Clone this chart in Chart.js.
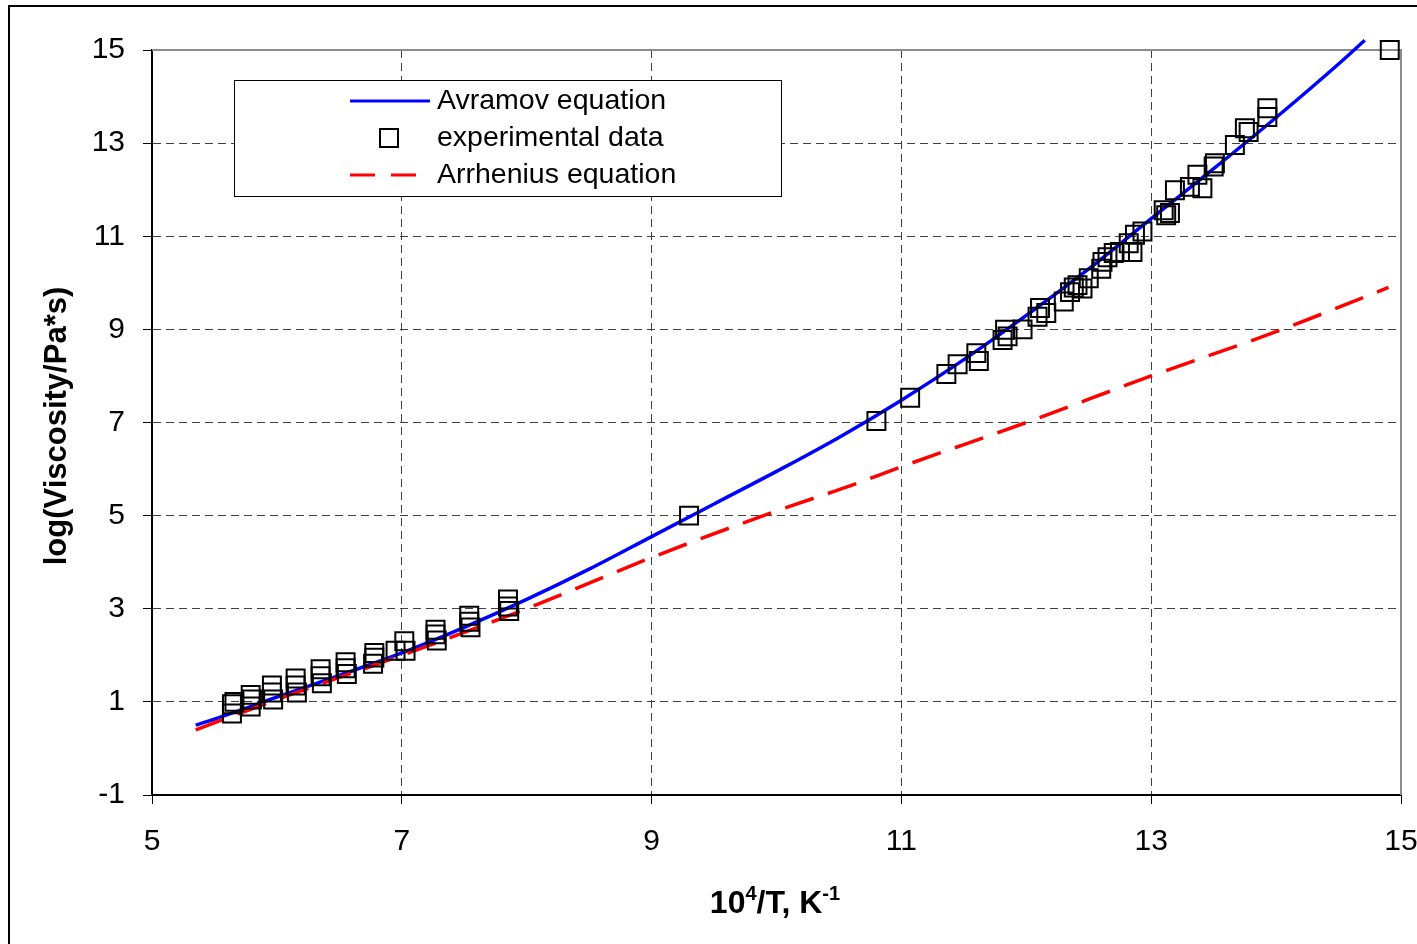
<!doctype html>
<html lang="en">
  <head>
    <meta charset="utf-8">
    <title>Viscosity vs 1/T</title>
    <style>
      * {
        margin: 0;
        padding: 0;
      }
      body {
        width: 1417px;
        height: 944px;
        overflow: hidden;
        background: white;
        font-family: "Liberation Sans", Arial, sans-serif;
      }
      .frame {
        position: absolute;
        left: 8px;
        top: 5px;
        width: 1500px;
        height: 1000px;
        border-left: 2px solid #000;
        border-top: 2px solid #000;
      }
      .chartBox {
        position: absolute;
        left: 0;
        top: 0;
        width: 1417px;
        height: 944px;
      }
    </style>
  </head>
  <body>
    <div class="frame"></div>
    <div class="chartBox">
      <canvas id="myChart" width="1417" height="944"></canvas>
    </div>
    <script src="https://cdn.jsdelivr.net/npm/chart.js"></script>
    <script>
    // data
    const avramovX = [5.35, 5.5, 6.0, 6.5, 7.0, 7.5, 8.0, 8.5, 9.0, 9.5, 10.0, 10.5, 11.0, 11.5, 12.0, 12.5, 13.0, 13.5, 14.0, 14.5, 14.71];
    const avramovY = [0.5, 0.63, 1.1, 1.57, 2.05, 2.6, 3.2, 3.85, 4.55, 5.25, 5.95, 6.68, 7.48, 8.35, 9.3, 10.3, 11.38, 12.45, 13.55, 14.7, 15.21];

    const arrheniusX = [5.35, 6.0, 7.0, 8.0, 9.0, 10.0, 10.6, 11.0, 12.0, 13.0, 14.0, 14.9];
    const arrheniusY = [0.4, 1.05, 2.0, 3.0, 4.1, 5.1, 5.65, 6.05, 7.0, 8.0, 8.95, 9.9];

    const expX = [5.64, 5.64, 5.66, 5.79, 5.79, 5.80, 5.96, 5.96, 5.97, 6.15, 6.15, 6.16,
                  6.35, 6.35, 6.36, 6.55, 6.55, 6.56, 6.78, 6.78, 6.77, 6.95, 7.02, 7.03,
                  7.27, 7.27, 7.28, 7.54, 7.54, 7.55, 7.85, 7.85, 7.86,
                  9.3, 10.8, 11.07, 11.36, 11.45, 11.6, 11.62, 11.81, 11.83, 11.85, 11.97,
                  12.09, 12.11, 12.16, 12.3, 12.35, 12.41, 12.45, 12.38, 12.5, 12.61, 12.65,
                  12.6, 12.7, 12.75, 12.85, 12.87, 12.93, 12.82, 13.1, 13.12, 13.15, 13.19,
                  13.31, 13.41, 13.37, 13.51, 13.5, 13.67, 13.75, 13.78, 13.93, 13.93, 14.91];
    const expY = [0.95, 0.75, 1.0, 1.15, 0.9, 1.05, 1.35, 1.2, 1.05, 1.5, 1.35, 1.2,
                  1.7, 1.55, 1.4, 1.85, 1.72, 1.6, 2.05, 1.95, 1.82, 2.1, 2.3, 2.1,
                  2.55, 2.45, 2.32, 2.85, 2.72, 2.6, 3.2, 3.05, 2.95,
                  5.0, 7.03, 7.53, 8.04, 8.25, 8.49, 8.32, 8.77, 8.99, 8.85, 9.0,
                  9.27, 9.46, 9.35, 9.6, 9.8, 9.95, 9.88, 9.9, 10.1, 10.45, 10.55,
                  10.3, 10.64, 10.66, 10.66, 11.03, 11.1, 10.85, 11.56, 11.45, 11.5, 11.99,
                  12.06, 12.03, 12.32, 12.57, 12.5, 12.96, 13.32, 13.24, 13.75, 13.56, 15.0];

    const xTicks = [5, 7, 9, 11, 13, 15];
    const yTicks = [-1, 1, 3, 5, 7, 9, 11, 13, 15];

    const toPoints = (xs, ys) => xs.map((x, i) => ({x: x, y: ys[i]}));

    const FONT = '"Liberation Sans", Arial, sans-serif';

    // legend, axis titles and the grey top/right edge
    const extras = {
      id: 'extras',
      beforeDatasetsDraw(chart) {
        const {ctx, chartArea: a} = chart;
        ctx.save();
        ctx.strokeStyle = '#8c8c8c';
        ctx.lineWidth = 2;
        ctx.beginPath();
        ctx.moveTo(a.left, a.top);
        ctx.lineTo(a.right, a.top);
        ctx.lineTo(a.right, a.bottom);
        ctx.stroke();
        ctx.restore();
      },
      afterDraw(chart) {
        const {ctx} = chart;
        ctx.save();

        // legend box
        ctx.fillStyle = '#fff';
        ctx.fillRect(234, 80, 547, 116);
        ctx.strokeStyle = '#000';
        ctx.lineWidth = 1;
        ctx.strokeRect(234.5, 80.5, 547, 116);

        ctx.lineWidth = 3;
        ctx.strokeStyle = '#0000ff';
        ctx.beginPath();
        ctx.moveTo(350, 101);
        ctx.lineTo(430, 101);
        ctx.stroke();

        ctx.lineWidth = 2;
        ctx.strokeStyle = '#000';
        ctx.strokeRect(380, 129, 18, 18);

        ctx.lineWidth = 3;
        ctx.strokeStyle = '#ff0000';
        ctx.setLineDash([25, 16]);
        ctx.beginPath();
        ctx.moveTo(350, 175);
        ctx.lineTo(428, 175);
        ctx.stroke();
        ctx.setLineDash([]);

        ctx.fillStyle = '#000';
        ctx.font = '28.5px ' + FONT;
        ctx.textBaseline = 'middle';
        ctx.textAlign = 'left';
        ctx.fillText('Avramov equation', 437, 101);
        ctx.fillText('experimental data', 437, 138);
        ctx.fillText('Arrhenius equation', 437, 175);

        // y title
        ctx.save();
        ctx.translate(57, 426);
        ctx.rotate(-Math.PI / 2);
        ctx.font = 'bold 31px ' + FONT;
        ctx.textAlign = 'center';
        ctx.fillText('log(Viscosity/Pa*s)', 0, 0);
        ctx.restore();

        // x title with superscripts
        const big = 'bold 32px ' + FONT;
        const small = 'bold 20px ' + FONT;
        const parts = [['10', big, 0], ['4', small, -13], ['/T, K', big, 0], ['-1', small, -13]];
        let w = 0;
        parts.forEach(p => { ctx.font = p[1]; w += ctx.measureText(p[0]).width; });
        let x = 775 - w / 2;
        ctx.textBaseline = 'alphabetic';
        ctx.textAlign = 'left';
        parts.forEach(p => {
          ctx.font = p[1];
          ctx.fillText(p[0], x, 913 + p[2]);
          x += ctx.measureText(p[0]).width;
        });

        ctx.restore();
      }
    };

    const hideEdge = edges => c => edges.includes(c.tick && c.tick.value) ? 'rgba(0,0,0,0)' : '#404040';

    const data = {
      datasets: [{
        label: 'Avramov equation',
        data: toPoints(avramovX, avramovY),
        showLine: true,
        borderColor: '#0000ff',
        borderWidth: 3.5,
        pointRadius: 0,
        cubicInterpolationMode: 'monotone',
        clip: false,
        order: 3
      }, {
        label: 'experimental data',
        data: toPoints(expX, expY),
        showLine: false,
        pointStyle: 'rect',
        pointRadius: 12.7,
        pointBorderWidth: 2,
        pointBorderColor: '#000',
        pointBackgroundColor: 'rgba(0,0,0,0)',
        clip: false,
        order: 1
      }, {
        label: 'Arrhenius equation',
        data: toPoints(arrheniusX, arrheniusY),
        showLine: true,
        borderColor: '#ff0000',
        borderWidth: 3.5,
        borderDash: [30, 15],
        pointRadius: 0,
        cubicInterpolationMode: 'monotone',
        order: 2
      }]
    };

    const config = {
      type: 'scatter',
      data,
      plugins: [extras],
      options: {
        responsive: false,
        animation: false,
        layout: {
          padding: {left: 0, top: 50, right: 16, bottom: 0}
        },
        plugins: {
          legend: {display: false},
          tooltip: {enabled: false}
        },
        scales: {
          x: {
            type: 'linear',
            min: 5,
            max: 15,
            afterBuildTicks: s => { s.ticks = xTicks.map(v => ({value: v})); },
            afterFit: s => {
              s.height = 149;
              s.paddingLeft = 0;
              s.paddingRight = 0;
            },
            ticks: {
              color: '#000',
              font: {family: FONT, size: 30},
              padding: 20,
              maxRotation: 0
            },
            grid: {
              color: hideEdge([5, 15]),
              lineWidth: 1,
              tickLength: 9,
              tickColor: '#000',
              tickWidth: 1
            },
            border: {
              color: '#000',
              width: 2,
              dash: [8, 5]
            }
          },
          y: {
            type: 'linear',
            min: -1,
            max: 15,
            afterBuildTicks: s => { s.ticks = yTicks.map(v => ({value: v})); },
            afterFit: s => {
              s.width = 152;
              s.paddingTop = 0;
              s.paddingBottom = 0;
            },
            ticks: {
              color: '#000',
              font: {family: FONT, size: 30},
              padding: 18
            },
            grid: {
              color: hideEdge([-1, 15]),
              lineWidth: 1,
              tickLength: 9,
              tickColor: '#000',
              tickWidth: 1
            },
            border: {
              color: '#000',
              width: 2,
              dash: [8, 5]
            }
          }
        }
      }
    };

    const myChart = new Chart(document.getElementById('myChart'), config);
    </script>
  </body>
</html>
